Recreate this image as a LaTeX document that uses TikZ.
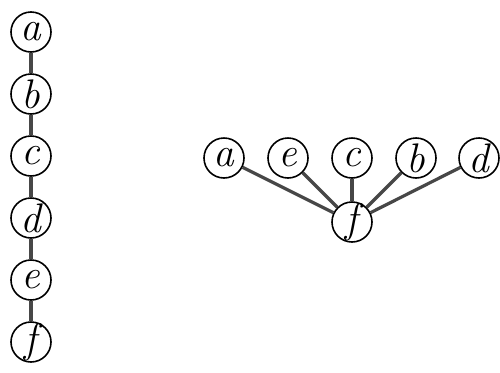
\documentclass[tikz,border=0pt]{standalone}
\usepackage{fontspec}
\usepackage{tikz}
\usetikzlibrary{positioning}

\begin{document}
\begin{tikzpicture}[
    x=0.75pt, y=-0.75pt,
    vx/.style={draw, circle, line width=1.2pt, minimum size=30pt, inner sep=0pt, font=\fontsize{31}{34}\selectfont\itshape},
    ed/.style={line width=2.4pt, draw=black!72},
]
    \useasboundingbox (0,0) rectangle (500,372);

    % path
    \node[vx] (la) at (31,32) {a};
    \node[vx] (lb) at (31,94) {b};
    \node[vx] (lc) at (31,156) {c};
    \node[vx] (ld) at (31,218) {d};
    \node[vx] (le) at (31,280) {e};
    \node[vx] (lf) at (31,342) {f};

    \draw[ed] (la) -- (lb);
    \draw[ed] (lb) -- (lc);
    \draw[ed] (lc) -- (ld);
    \draw[ed] (ld) -- (le);
    \draw[ed] (le) -- (lf);

    % star
    \node[vx] (ra) at (224,158) {a};
    \node[vx] (re) at (288,158) {e};
    \node[vx] (rc) at (352,158) {c};
    \node[vx] (rb) at (416,158) {b};
    \node[vx] (rd) at (479,158) {d};
    \node[vx] (rf) at (352,222) {f};

    \draw[ed] (rf) -- (ra);
    \draw[ed] (rf) -- (re);
    \draw[ed] (rf) -- (rc);
    \draw[ed] (rf) -- (rb);
    \draw[ed] (rf) -- (rd);
\end{tikzpicture}
\end{document}
